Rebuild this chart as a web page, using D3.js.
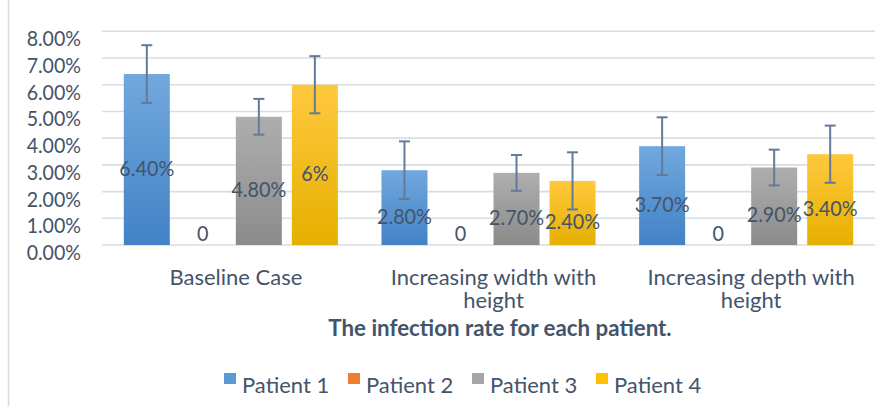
<!DOCTYPE html>
<html>
<head>
<meta charset="utf-8">
<script src="https://cdn.jsdelivr.net/npm/d3@7"></script>
<style>
  html, body { margin: 0; padding: 0; background: #fff; }
  svg { display: block; }
  text { font-family: Lato, "Open Sans", sans-serif; fill: #44546A; }
</style>
</head>
<body>
<div id="chart"></div>
<script>
// ---------- data ----------
const categories = ["Baseline Case", "Increasing width with height", "Increasing depth with height"];
const seriesNames = ["Patient 1", "Patient 2", "Patient 3", "Patient 4"];
const patient1 = [6.4, 2.8, 3.7];
const patient2 = [0, 0, 0];
const patient3 = [4.8, 2.7, 2.9];
const patient4 = [6.0, 2.4, 3.4];
const error1 = [1.08, 1.08, 1.08];
const error2 = [0, 0, 0];
const error3 = [0.67, 0.67, 0.67];
const error4 = [1.07, 1.07, 1.07];
const labels1 = ["6.40%", "2.80%", "3.70%"];
const labels2 = ["0", "0", "0"];
const labels3 = ["4.80%", "2.70%", "2.90%"];
const labels4 = ["6%", "2.40%", "3.40%"];
const yTickValues = [0, 1, 2, 3, 4, 5, 6, 7, 8];
const yTickLabels = ["0.00%", "1.00%", "2.00%", "3.00%", "4.00%", "5.00%", "6.00%", "7.00%", "8.00%"];
const chartTitle = "The infection rate for each patient.";

const seriesValues = [patient1, patient2, patient3, patient4];
const seriesErrors = [error1, error2, error3, error4];
const seriesLabels = [labels1, labels2, labels3, labels4];

// ---------- layout / style ----------
const W = 891, H = 406;
const plotLeft = 102, plotRight = 875, plotTop = 31.3, plotBottom = 245;
const colors = [
  ["#72A8DD", "#4282C6"],
  ["#F0823A", "#E5722A"],
  ["#AEAEAE", "#8B8B8B"],
  ["#FFC93E", "#E6AF00"]
];
const legendColors = ["#5B9BD5", "#ED7D31", "#A5A5A5", "#FFC000"];
const gridColor = "#D9DEE4";
const errColor = "#637A98";

const svg = d3.select("#chart").append("svg").attr("width", W).attr("height", H);
const defs = svg.append("defs");
colors.forEach((c, i) => {
  const g = defs.append("linearGradient").attr("id", "grad" + i)
    .attr("x1", 0).attr("y1", 0).attr("x2", 0).attr("y2", 1);
  g.append("stop").attr("offset", "0%").attr("stop-color", c[0]);
  g.append("stop").attr("offset", "100%").attr("stop-color", c[1]);
});

// chart frame (left edge visible)
svg.append("line").attr("x1", 8.5).attr("x2", 8.5).attr("y1", 0).attr("y2", H)
  .attr("stroke", "#D9D9D9").attr("stroke-width", 1.5);

const y = d3.scaleLinear().domain([0, 8]).range([plotBottom, plotTop]);
const x0 = d3.scaleBand().domain(categories).range([plotLeft, plotRight]).paddingInner(0).paddingOuter(0);
const outerGap = x0.bandwidth() * 0.0846;
const x1 = d3.scaleBand().domain(seriesNames)
  .range([outerGap, x0.bandwidth() - outerGap]).paddingInner(0.1786).paddingOuter(0);

function addText(g, x, yy, s, opts) {
  const o = Object.assign({ size: 21, sx: 1, anchor: "middle", weight: "normal" }, opts || {});
  return g.append("text")
    .attr("transform", `translate(${x},${yy}) scale(${o.sx},1)`)
    .attr("text-anchor", o.anchor)
    .attr("font-size", o.size)
    .attr("font-weight", o.weight)
    .text(s);
}

// gridlines
const grid = svg.append("g");
yTickValues.forEach(v => {
  grid.append("line")
    .attr("x1", plotLeft).attr("x2", plotRight)
    .attr("y1", y(v)).attr("y2", y(v))
    .attr("stroke", gridColor).attr("stroke-width", 1.6);
});

// y tick labels
const yAxisG = svg.append("g");
yTickValues.forEach((v, i) => {
  addText(yAxisG, 81, y(v) + 15, yTickLabels[i], { size: 22, sx: 0.89, anchor: "end" });
});

// bars
const barsG = svg.append("g");
categories.forEach((cat, ci) => {
  seriesNames.forEach((s, si) => {
    const v = seriesValues[si][ci];
    const bx = x0(cat) + x1(s);
    barsG.append("rect")
      .attr("x", bx).attr("width", x1.bandwidth())
      .attr("y", y(v)).attr("height", y(0) - y(v))
      .attr("fill", `url(#grad${si})`);
  });
});

// error bars
const errG = svg.append("g").attr("stroke", errColor).attr("stroke-width", 2);
categories.forEach((cat, ci) => {
  seriesNames.forEach((s, si) => {
    const v = seriesValues[si][ci], e = seriesErrors[si][ci];
    if (e <= 0) return;
    const cx = x0(cat) + x1(s) + x1.bandwidth() / 2;
    const capW = 5.5;
    errG.append("line").attr("x1", cx).attr("x2", cx).attr("y1", y(v + e)).attr("y2", y(v - e));
    errG.append("line").attr("x1", cx - capW).attr("x2", cx + capW).attr("y1", y(v + e)).attr("y2", y(v + e));
    errG.append("line").attr("x1", cx - capW).attr("x2", cx + capW).attr("y1", y(v - e)).attr("y2", y(v - e));
  });
});

// data labels
const labG = svg.append("g");
categories.forEach((cat, ci) => {
  seriesNames.forEach((s, si) => {
    const v = seriesValues[si][ci];
    const cx = x0(cat) + x1(s) + x1.bandwidth() / 2;
    const mid = (y(v) + y(0)) / 2;
    const yy = v === 0 ? y(0) - 4 : mid + 16;
    addText(labG, cx, yy, seriesLabels[si][ci], { size: 22, sx: 0.9 });
  });
});

// category labels with wrapping
const catG = svg.append("g");
const maxW = x0.bandwidth() * 0.93;
categories.forEach(cat => {
  const words = cat.split(" ");
  const lines = [];
  let line = "";
  const probe = svg.append("text").attr("font-size", 22);
  words.forEach(w => {
    const test = line ? line + " " + w : w;
    probe.text(test);
    if (probe.node().getComputedTextLength() > maxW && line) {
      lines.push(line); line = w;
    } else line = test;
  });
  lines.push(line);
  probe.remove();
  const cx = x0(cat) + x0.bandwidth() / 2 + 5;
  lines.forEach((l, li) => {
    addText(catG, cx, 285 + li * 23, l, { size: 22, sx: 1 });
  });
});

// title
addText(svg, 500, 336, chartTitle, { size: 22.3, weight: "bold" });

// legend
const legendG = svg.append("g");
const legendX = [224, 348, 472, 596];
seriesNames.forEach((s, i) => {
  legendG.append("rect").attr("x", legendX[i]).attr("y", 373).attr("width", 12).attr("height", 11)
    .attr("fill", legendColors[i]);
  addText(legendG, legendX[i] + 18, 393, s, { size: 22, anchor: "start" });
});
</script>
</body>
</html>
